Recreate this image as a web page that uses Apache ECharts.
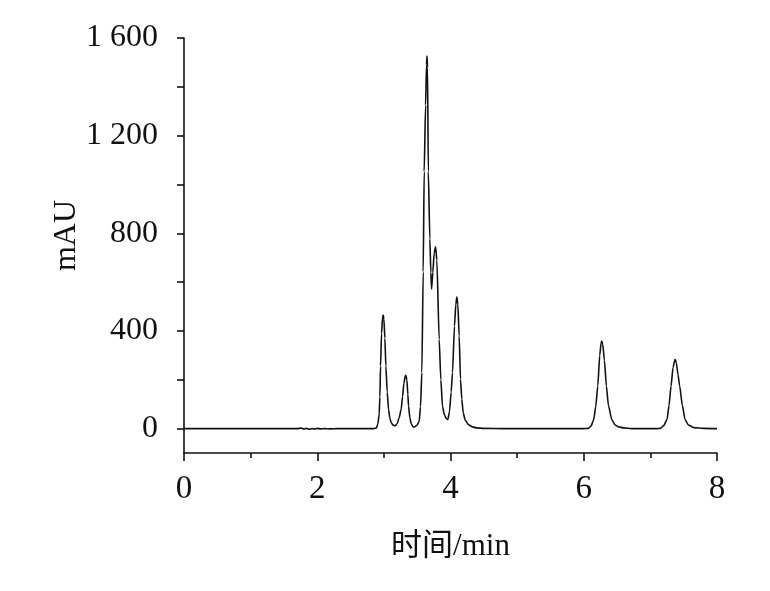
<!DOCTYPE html>
<html>
<head>
<meta charset="utf-8">
<script src="https://cdn.jsdelivr.net/npm/echarts@6/dist/echarts.min.js"></script>
<style>html,body{margin:0;padding:0;background:#fff}#c{width:770px;height:591px}</style>
</head>
<body>
<div id="c"></div>
<script>
// Retention time (min)
const times = [
  0, 1.0, 1.7, 1.76, 1.80, 1.84, 1.88, 1.92, 1.96, 2.00, 2.05, 2.10, 2.20, 2.30, 2.85,
  2.89, 2.91, 2.93, 2.94, 2.95, 2.965, 2.98, 2.99, 3.00, 3.015, 3.03, 3.05, 3.07, 3.09, 3.11, 3.14, 3.17,
  3.20, 3.23, 3.26, 3.28, 3.30, 3.32, 3.33, 3.345, 3.36, 3.37, 3.39, 3.41, 3.44, 3.47,
  3.50, 3.53, 3.55, 3.57, 3.59, 3.605, 3.626, 3.64, 3.647, 3.655, 3.667, 3.69, 3.705, 3.716,
  3.735, 3.755, 3.776, 3.795, 3.83, 3.855, 3.88, 3.91, 3.94, 3.96,
  3.985, 4.01, 4.03, 4.06, 4.08, 4.095, 4.11, 4.13, 4.15, 4.17, 4.19, 4.22, 4.27, 4.33, 4.39, 4.5, 4.8,
  6.0, 6.07, 6.11, 6.15, 6.18, 6.21, 6.24, 6.26, 6.27, 6.285, 6.31, 6.34, 6.37, 6.42, 6.47, 6.52, 6.6, 6.72,
  7.1, 7.15, 7.2, 7.25, 7.28, 7.31, 7.34, 7.37, 7.39, 7.415, 7.44, 7.48, 7.52, 7.57, 7.65, 7.8, 8.0
];
// Absorbance (mAU)
const signal = [
  0, 0, 0, 2, -2, 1, -3, 0, -2, 1, -1, 0, -1, 0, 0,
  3, 20, 60, 130, 256, 390, 455, 465, 450, 370, 256, 150, 78, 42, 24, 14, 12,
  20, 45, 80, 130, 185, 215, 218, 200, 140, 92, 45, 20, 7, 8,
  15, 30, 90, 230, 642, 1053, 1325, 1490, 1526, 1480, 1053, 777, 640, 572,
  640, 720, 745, 690, 366, 200, 90, 55, 40, 37,
  70, 150, 230, 420, 510, 539, 510, 380, 202, 120, 66, 35, 16, 7, 3, 1, 0,
  0, 1, 10, 37, 90, 174, 300, 350, 359, 345, 280, 174, 95, 37, 15, 7, 3, 0,
  0, 1, 12, 37, 95, 174, 250, 284, 270, 220, 174, 95, 37, 15, 4, 1, 0
];
const xLabels = [0, 2, 4, 6, 8];
const yTicks = [0, 200, 400, 600, 800, 1000, 1200, 1400, 1600];
const yLabels = [0, 400, 800, 1200, 1600];

const FONT = 'Liberation Serif, Noto Sans CJK SC, serif';
const chart = echarts.init(document.getElementById('c'), null, {renderer: 'canvas'});
chart.setOption({
  animation: false,
  backgroundColor: '#fff',
  grid: {left: 184, right: 53, top: 38, bottom: 138, containLabel: false},
  xAxis: {
    type: 'value', min: 0, max: 8, interval: 2,
    name: '时间/min', nameLocation: 'middle', nameGap: 78,
    nameTextStyle: {fontFamily: FONT, fontSize: 31, color: '#111'},
    axisLine: {onZero: false, lineStyle: {color: '#111', width: 1.6}},
    axisTick: {length: 8, lineStyle: {color: '#111', width: 1.6}},
    minorTick: {show: true, splitNumber: 2, length: 5, lineStyle: {color: '#111', width: 1.6}},
    axisLabel: {fontFamily: FONT, fontSize: 33, color: '#111', margin: 20, customValues: xLabels},
    splitLine: {show: false}
  },
  yAxis: {
    type: 'value', min: -100, max: 1600,
    name: 'mAU', nameLocation: 'middle', nameGap: 101, nameRotate: 90,
    nameMoveOverlap: false,
    nameTextStyle: {fontFamily: FONT, fontSize: 32, color: '#111', padding: [0, 0, 0, 20]},
    axisLine: {show: true, onZero: false, lineStyle: {color: '#111', width: 1.6}},
    axisTick: {show: true, length: 7, customValues: yTicks, lineStyle: {color: '#111', width: 1.6}},
    axisLabel: {fontFamily: FONT, fontSize: 32, color: '#111', margin: 26, customValues: yLabels,
      formatter: v => v >= 1000 ? Math.floor(v / 1000) + ' ' + String(v % 1000).padStart(3, '0') : String(v)},
    splitLine: {show: false}
  },
  series: [{
    type: 'line',
    data: times.map((t, i) => [t, signal[i]]),
    showSymbol: false,
    smooth: 0.2,
    smoothMonotone: 'x',
    lineStyle: {color: '#111', width: 1.6},
    clip: false
  }]
});
</script>
</body>
</html>
